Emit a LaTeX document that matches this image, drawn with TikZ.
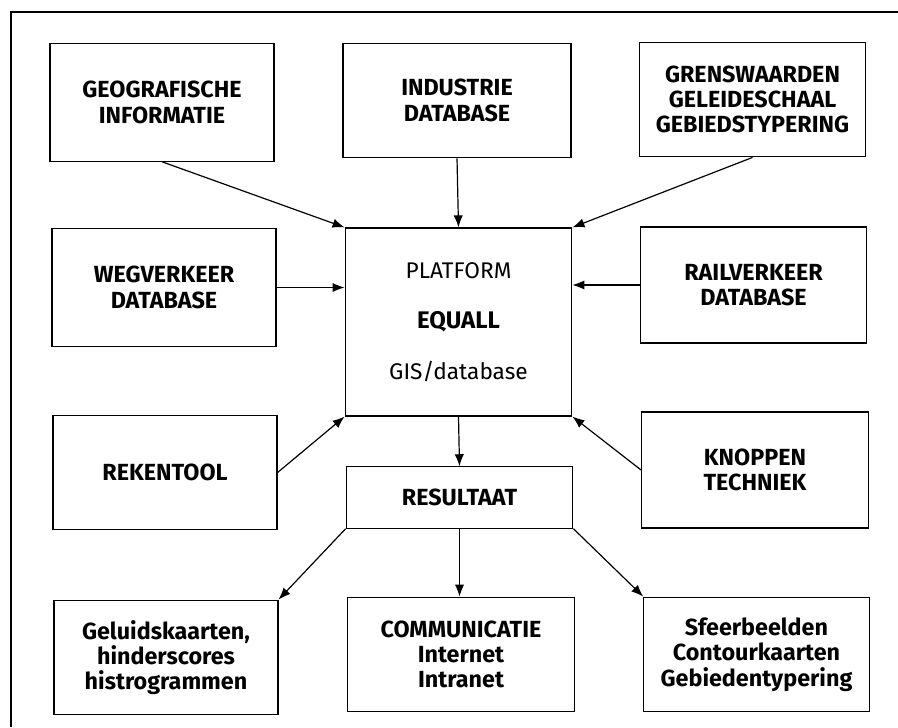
\documentclass[tikz,border=0pt]{standalone}
\usepackage{fontspec}
\setmainfont{Fira Sans}
\usetikzlibrary{arrows.meta}
\usetikzlibrary{positioning}

\tikzset{
    blok/.style={draw, line width=0.9pt, align=center, inner sep=2pt,
        font=\fontsize{17.5}{19}\selectfont\bfseries},
    pijl/.style={line width=0.9pt, -{Latex[length=9pt,width=7pt]}}
}

\begin{document}
\begin{tikzpicture}[x=0.75pt, y=-0.75pt]
    \useasboundingbox (0,0) rectangle (898,727);
    % kader (rechts en onder afgesneden)
    \draw[line width=0.9pt] (898,12) -- (11,12) -- (11,727);

    % bovenste rij
    \node[blok, minimum width=168pt, minimum height=88pt] (geo) at (162,102.5) {GEOGRAFISCHE\\INFORMATIE};
    \node[blok, minimum width=171pt, minimum height=86pt] (ind) at (457,100.5) {INDUSTRIE\\DATABASE};
    \node[blok, minimum width=170pt, minimum height=86pt] (grens) at (752.5,99.5) {GRENSWAARDEN\\GELEIDESCHAAL\\GEBIEDSTYPERING};

    % midden
    \node[blok, minimum width=168pt, minimum height=88pt] (weg) at (164,287.5) {WEGVERKEER\\DATABASE};
    \node[blok, minimum width=170pt, minimum height=141pt, font=\fontsize{17}{19}\selectfont] (plat) at (458.5,322)
        {PLATFORM\\[19pt]{\fontsize{18}{19}\selectfont\bfseries EQUALL}\\[19pt]GIS/database};
    \node[blok, minimum width=170pt, minimum height=87pt] (rail) at (753.5,285) {RAILVERKEER\\DATABASE};

    \node[blok, minimum width=168pt, minimum height=86pt] (reken) at (165,472.5) {REKENTOOL};
    \node[blok, minimum width=170pt, minimum height=46pt] (res) at (459.5,497.5) {RESULTAAT};
    \node[blok, minimum width=170pt, minimum height=87pt] (knop) at (755,470) {KNOPPEN\\TECHNIEK};

    % onderste rij
    \node[blok, minimum width=168pt, minimum height=86pt] (gel) at (166,657.5) {Geluidskaarten,\\hinderscores\\histrogrammen};
    \node[blok, minimum width=170pt, minimum height=86pt] (comm) at (461,654.5) {COMMUNICATIE\\Internet\\Intranet};
    \node[blok, minimum width=169pt, minimum height=86pt] (sfeer) at (756.5,654.5) {Sfeerbeelden\\Contourkaarten\\Gebiedentypering};

    % pijlen naar het platform
    \draw[pijl] (geo.south) -- (plat.north west);
    \draw[pijl] (ind.south) -- (plat.north);
    \draw[pijl] (grens.south) -- (plat.north east);
    \draw[pijl] (weg.east) -- (weg.east -| plat.west);
    \draw[pijl] (rail.west) -- (rail.west -| plat.east);
    \draw[pijl] (reken.east) -- (plat.south west);
    \draw[pijl] (knop.west) -- (plat.south east);

    % resultaat
    \draw[pijl] (plat.south) -- (res.north);
    \draw[pijl] (res.south west) -- (gel.north east);
    \draw[pijl] (res.south) -- (res.south |- comm.north);
    \draw[pijl] (res.south east) -- (sfeer.north west);
\end{tikzpicture}
\end{document}
